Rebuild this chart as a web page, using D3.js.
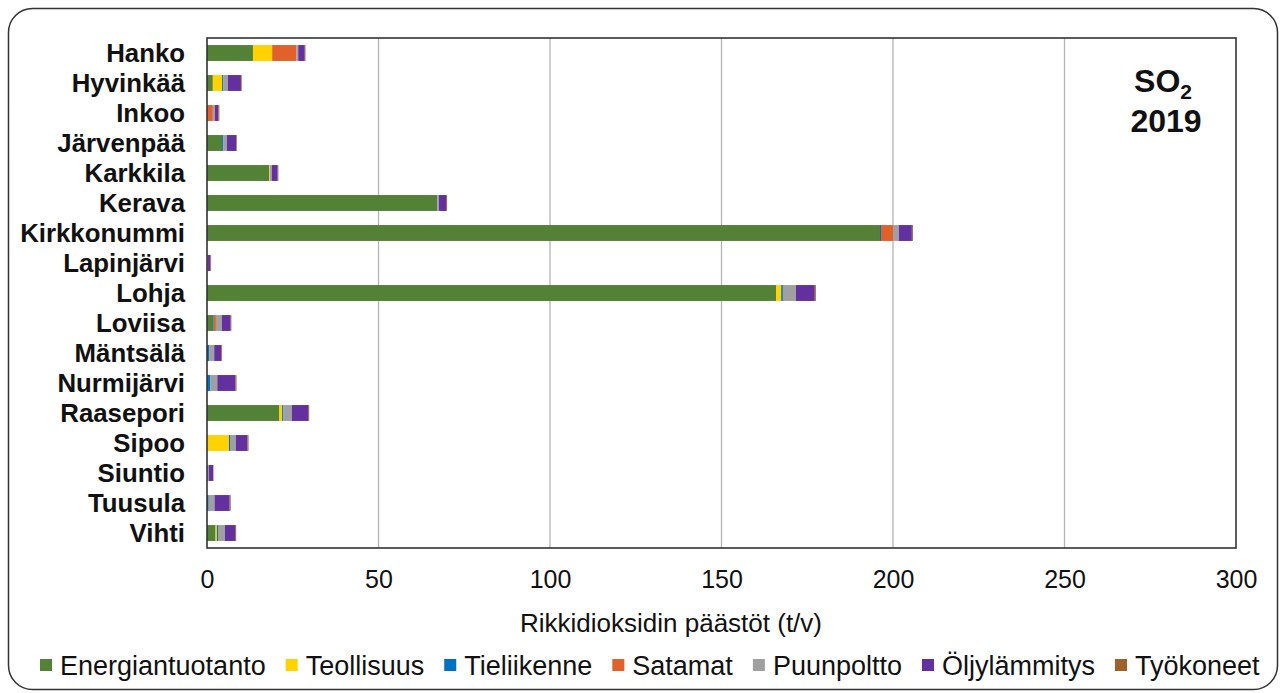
<!DOCTYPE html>
<html><head><meta charset="utf-8">
<script src="https://cdn.jsdelivr.net/npm/d3@7"></script>
<style>
body{margin:0;background:#fff;}
svg{display:block;font-family:"Liberation Sans",Arial,sans-serif;}
</style></head>
<body><svg id="c" width="1282" height="693"></svg>
<script>
const categories = ["Hanko","Hyvinkää","Inkoo","Järvenpää","Karkkila","Kerava","Kirkkonummi","Lapinjärvi","Lohja","Loviisa","Mäntsälä","Nurmijärvi","Raasepori","Sipoo","Siuntio","Tuusula","Vihti"];
const seriesNames = ["Energiantuotanto","Teollisuus","Tieliikenne","Satamat","Puunpoltto","Öljylämmitys","Työkoneet"];
const seriesColors = ["#538135","#FFD200","#0070C0","#E0622A","#A0A0A0","#6330A0","#A0602A"];
const energiantuotanto = [13.4,1.7,0,4.4,18.1,67.1,196.2,0,165.9,1.8,0,0,21.1,0,0,0,2.5];
const teollisuus       = [5.6,2.7,0,0,0.2,0,0,0,1.5,0,0,0,0.8,6.4,0,0,0.4];
const tieliikenne      = [0,0.3,0,0.3,0,0,0.3,0,0.5,0.2,0.6,1.0,0.4,0.3,0,0.5,0.3];
const satamat          = [7.1,0,1.7,0,0,0,3.5,0,0,0.6,0,0,0,0,0,0,0];
const puunpoltto       = [0.5,1.4,0.6,1.1,0.6,0.5,1.7,0.3,3.8,1.7,1.5,2.0,2.4,1.7,0.5,1.7,2.0];
const oljylammitys     = [1.9,3.8,1.0,2.7,1.7,2.1,3.8,0.7,5.5,2.6,2.1,5.3,4.8,3.4,1.3,4.4,3.0];
const tyokoneet        = [0.2,0.2,0.3,0.2,0.2,0.3,0.3,0.2,0.3,0.2,0.2,0.3,0.3,0.3,0.1,0.3,0.3];
const xTicks = [0,50,100,150,200,250,300];
const xTitle = "Rikkidioksidin päästöt (t/v)";

const seriesValues = [energiantuotanto,teollisuus,tieliikenne,satamat,puunpoltto,oljylammitys,tyokoneet];
const rows = categories.map((c,i)=>{const o={cat:c}; seriesNames.forEach((s,j)=>o[s]=seriesValues[j][i]); return o;});

const svg = d3.select("#c");
const L=207, R=1236, T=38, B=548;
const FF = "'Liberation Sans',Arial,sans-serif";

svg.append("rect").attr("x",8.5).attr("y",8.5).attr("width",1269).attr("height",681)
  .attr("rx",24).attr("fill","#fff").attr("stroke","#333").attr("stroke-width",1.5);

const x = d3.scaleLinear().domain([0,300]).range([L,R]);
const y = d3.scaleBand().domain(categories).range([T,B]).paddingInner(0.47).paddingOuter(0.235);

svg.append("g").selectAll("line").data(xTicks.slice(1,-1)).join("line")
  .attr("x1",d=>x(d)).attr("x2",d=>x(d)).attr("y1",T).attr("y2",B)
  .attr("stroke","#B5B5B5").attr("stroke-width",1.3);

const stack = d3.stack().keys(seriesNames)(rows);
svg.append("g").selectAll("g").data(stack).join("g")
  .attr("fill",(d,i)=>seriesColors[i])
  .selectAll("rect").data(d=>d).join("rect")
  .attr("x",d=>x(d[0])).attr("width",d=>Math.max(0,x(d[1])-x(d[0])))
  .attr("y",d=>y(d.data.cat)).attr("height",y.bandwidth());

svg.append("rect").attr("x",L).attr("y",T).attr("width",R-L).attr("height",B-T)
  .attr("fill","none").attr("stroke","#333").attr("stroke-width",1.6);

const xa = d3.axisBottom(x).tickValues(xTicks).tickSize(0).tickPadding(0);
const gx = svg.append("g").attr("transform",`translate(0,${B})`).call(xa);
gx.select(".domain").remove();
gx.selectAll("text").attr("dy",null).attr("y",40).attr("font-size",25)
  .attr("font-family",FF).attr("fill","#111");

const ya = d3.axisLeft(y).tickSize(0).tickPadding(0);
const gy = svg.append("g").attr("transform",`translate(185,0)`).call(ya);
gy.select(".domain").remove();
gy.selectAll("text").attr("font-size",25.8).attr("font-weight","bold")
  .attr("font-family",FF).attr("fill","#111").attr("dy","0.36em");

svg.append("text").attr("x",671).attr("y",632).attr("text-anchor","middle")
  .attr("font-family",FF).attr("font-size",26).attr("fill","#111").text(xTitle);

const t1 = svg.append("text").attr("x",1163).attr("y",92).attr("text-anchor","middle")
  .attr("font-family",FF).attr("font-size",32).attr("font-weight","bold").attr("fill","#111");
t1.append("tspan").text("SO");
t1.append("tspan").attr("font-size",21).attr("dy",7).text("2");
svg.append("text").attr("x",1166).attr("y",132).attr("text-anchor","middle")
  .attr("font-family",FF).attr("font-size",32).attr("font-weight","bold").attr("fill","#111").text("2019");

const lg = svg.append("g").attr("transform","translate(0,665)");
let lx = 40;
seriesNames.forEach((s,i)=>{
  lg.append("rect").attr("x",lx).attr("y",-6).attr("width",12).attr("height",12).attr("fill",seriesColors[i]);
  const t = lg.append("text").attr("x",lx+20).attr("y",0).attr("dy","0.36em")
    .attr("font-family",FF).attr("font-size",27).attr("fill","#111").text(s);
  lx += 20 + t.node().getComputedTextLength() + 20;
});
</script></body></html>
